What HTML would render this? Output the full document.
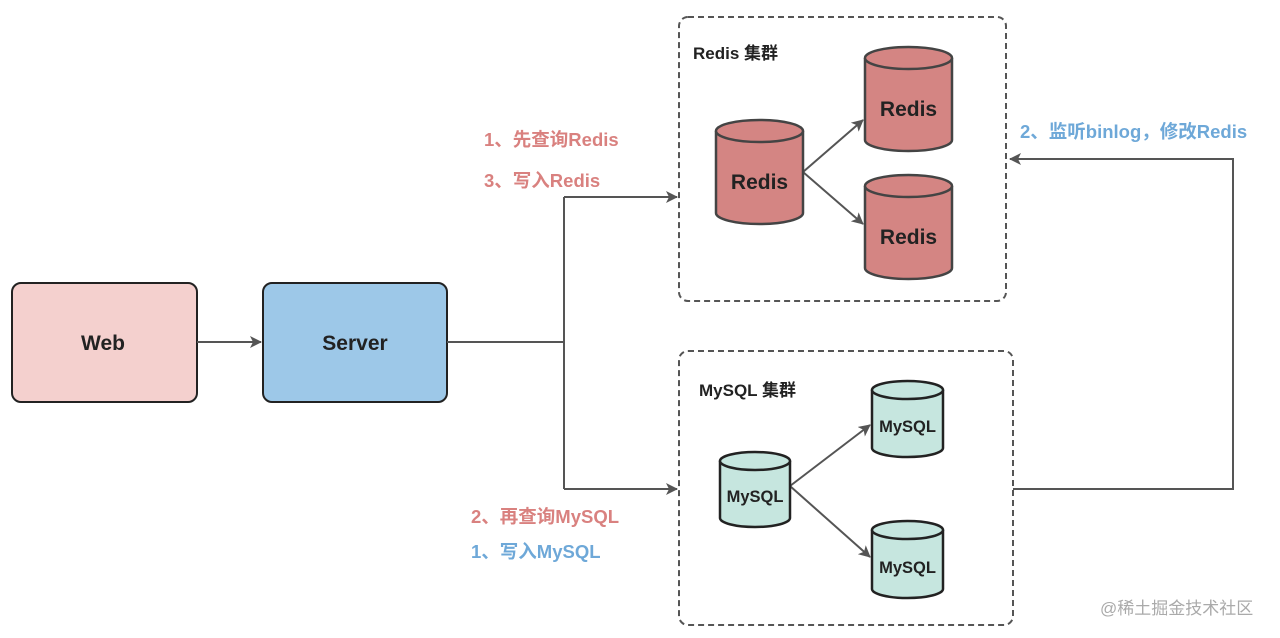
<!DOCTYPE html>
<html><head><meta charset="utf-8"><style>
html,body{margin:0;padding:0;background:#fff;}
svg{display:block;font-family:"Liberation Sans","Noto Sans CJK SC",sans-serif;font-weight:bold;}
</style></head><body>
<svg width="1280" height="638" viewBox="0 0 1280 638" xmlns="http://www.w3.org/2000/svg">
<defs>
<marker id="a" markerWidth="12" markerHeight="12" refX="11" refY="6" orient="auto" markerUnits="userSpaceOnUse">
<path d="M0,0 L12,6 L0,12 L3,6 z" fill="#555"/></marker>
</defs>
<rect x="679" y="17" width="327" height="284" rx="9" fill="#fff" stroke="#555" stroke-width="2" stroke-dasharray="6,4"/>
<rect x="679" y="351" width="334" height="274" rx="9" fill="#fff" stroke="#555" stroke-width="2" stroke-dasharray="6,4"/>
<text x="693" y="59" font-size="17" fill="#222">Redis 集群</text>
<text x="699" y="396" font-size="17" fill="#222">MySQL 集群</text>

<rect x="12" y="283" width="185" height="119" rx="9" fill="#f4d0ce" stroke="#222" stroke-width="2"/>
<text x="103" y="350" font-size="21" fill="#222" text-anchor="middle">Web</text>
<rect x="263" y="283" width="184" height="119" rx="9" fill="#9dc8e8" stroke="#222" stroke-width="2"/>
<text x="355" y="350" font-size="21" fill="#222" text-anchor="middle">Server</text>

<g stroke="#555" stroke-width="2" fill="none">
<line x1="197" y1="342" x2="261" y2="342" marker-end="url(#a)"/>
<polyline points="447,342 564,342"/>
<line x1="564" y1="197" x2="564" y2="489"/>
<line x1="564" y1="197" x2="677" y2="197" marker-end="url(#a)"/>
<line x1="564" y1="489" x2="677" y2="489" marker-end="url(#a)"/>
<polyline points="1013,489 1233,489 1233,159 1010,159" marker-end="url(#a)"/>
<line x1="803" y1="172" x2="863" y2="120" marker-end="url(#a)"/>
<line x1="803" y1="172" x2="863" y2="224" marker-end="url(#a)"/>
<line x1="790" y1="486" x2="870" y2="425" marker-end="url(#a)"/>
<line x1="790" y1="486" x2="870" y2="557" marker-end="url(#a)"/>
</g>

<g stroke="#444" stroke-width="2.5" fill="#d48583">
<path d="M716,131 v82 a43.5,11 0 0 0 87,0 v-82"/><ellipse cx="759.5" cy="131" rx="43.5" ry="11"/>
<path d="M865,58 v82 a43.5,11 0 0 0 87,0 v-82"/><ellipse cx="908.5" cy="58" rx="43.5" ry="11"/>
<path d="M865,186 v82 a43.5,11 0 0 0 87,0 v-82"/><ellipse cx="908.5" cy="186" rx="43.5" ry="11"/>
</g>
<g font-size="21" fill="#222" text-anchor="middle">
<text x="759.5" y="189">Redis</text><text x="908.5" y="116">Redis</text><text x="908.5" y="244">Redis</text>
</g>
<g stroke="#222" stroke-width="2.5" fill="#c6e6df">
<path d="M720,461 v57 a35,9 0 0 0 70,0 v-57"/><ellipse cx="755" cy="461" rx="35" ry="9"/>
<path d="M872,390 v58 a35.5,9 0 0 0 71,0 v-58"/><ellipse cx="907.5" cy="390" rx="35.5" ry="9"/>
<path d="M872,530 v59 a35.5,9 0 0 0 71,0 v-59"/><ellipse cx="907.5" cy="530" rx="35.5" ry="9"/>
</g>
<g font-size="16.5" fill="#222" text-anchor="middle">
<text x="755" y="502">MySQL</text><text x="907.5" y="432">MySQL</text><text x="907.5" y="573">MySQL</text>
</g>

<g font-size="18.5">
<text x="484" y="146" fill="#d9817f">1、先查询Redis</text>
<text x="484" y="187" fill="#d9817f">3、写入Redis</text>
<text x="471" y="523" fill="#d9817f">2、再查询MySQL</text>
<text x="471" y="558" fill="#6ea8d8">1、写入MySQL</text>
<text x="1020" y="138" fill="#6ea8d8">2、监听binlog，修改Redis</text>
</g>
<text x="1100" y="614" font-size="17" font-weight="normal" fill="#aaa">@稀土掘金技术社区</text>
</svg>
</body></html>
